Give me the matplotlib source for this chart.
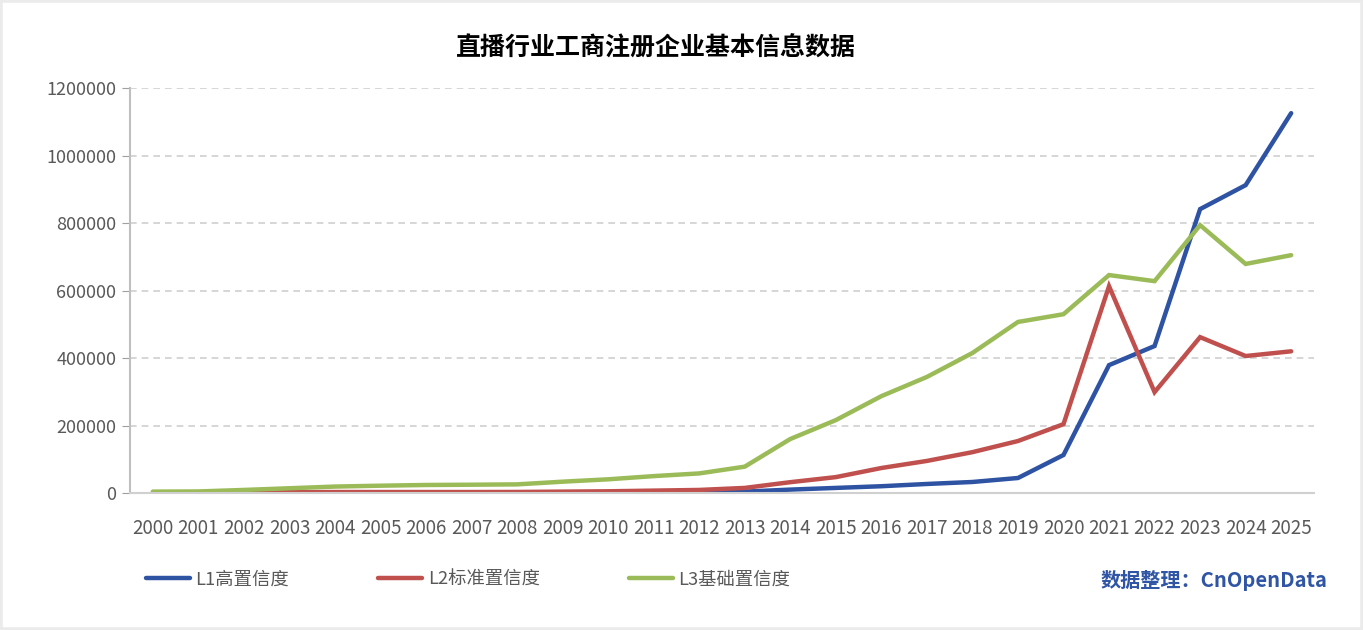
import matplotlib.pyplot as plt
import matplotlib
from matplotlib.patches import Rectangle

matplotlib.rcParams['font.family'] = ['Noto Sans CJK SC', 'DejaVu Sans']

# 年份
years = [str(y) for y in range(2000, 2026)]

# 各置信度等级的企业数量
l1_high = [300, 400, 500, 600, 700, 800, 900, 1000, 1100, 1300, 1500, 1800, 2500, 4000,
           10000, 15000, 20000, 26700, 32600, 44400, 112600, 379000, 435600, 841500, 912600, 1126000]
l2_std = [500, 800, 1500, 2500, 2800, 2800, 2800, 2800, 3000, 4000, 5000, 7000, 9000, 15000,
          32000, 47000, 74000, 95000, 121000, 154000, 204000, 613000, 299000, 462000, 406000, 420000]
l3_base = [4000, 4500, 9000, 14000, 19000, 21600, 23700, 24500, 25500, 33500, 40500, 50000, 58000, 78000,
           160000, 216000, 287000, 344000, 415000, 507000, 530000, 646000, 628000, 794000, 679000, 705000]

labels = ["L1高置信度", "L2标准置信度", "L3基础置信度"]
colors = ["#2F53A3", "#C0504D", "#9BBB59"]

fig = plt.figure(figsize=(13.63, 6.3), dpi=100)
ax = fig.add_axes([0.0954, 0.2175, 0.8686, 0.6425])

x = list(range(len(years)))
for vals, lab, c in zip([l1_high, l2_std, l3_base], labels, colors):
    ax.plot(x, vals, color=c, lw=3.2, label=lab, solid_capstyle='round', solid_joinstyle='miter')

ax.set_xlim(-0.5, len(years) - 0.5)
ax.set_ylim(0, 1200000)
ax.set_xticks(x)
ax.set_xticklabels(years)
ax.set_yticks(range(0, 1200001, 200000))
ax.set_yticklabels([str(v) for v in range(0, 1200001, 200000)])

ax.grid(axis='y', color='#D0D0D0', linestyle=(0, (4, 3)), lw=1.2)
ax.set_axisbelow(True)
for s in ['top', 'right']:
    ax.spines[s].set_visible(False)
ax.spines['left'].set_color('#BFBFBF')
ax.spines['bottom'].set_color('#D0D0D0')
ax.spines['left'].set_linewidth(1.5)
ax.spines['bottom'].set_linewidth(1.5)
ax.tick_params(axis='y', length=6, color='#A0A0A0', labelcolor='#595959', labelsize=13, pad=4)
ax.tick_params(axis='x', length=0, labelcolor='#595959', labelsize=13.5, pad=18)

fig.text(0.481, 0.923, "直播行业工商注册企业基本信息数据", ha='center', va='center',
         fontsize=18, fontweight='bold', color='black')

fig.legend(loc='center left', bbox_to_anchor=(0.095, 0.08), ncol=3, frameon=False,
           fontsize=13.2, handlelength=2.4, handletextpad=0.3, columnspacing=4.85,
           labelcolor='#595959')

fig.text(0.974, 0.079, "数据整理：CnOpenData", ha='right', va='center',
         fontsize=14.5, fontweight='bold', color='#2F55A4')

fig.patches.append(Rectangle((0, 0), 1, 1, transform=fig.transFigure, fill=False,
                             edgecolor='#EBEBEB', lw=4))

fig.savefig("out.png", dpi=100)
